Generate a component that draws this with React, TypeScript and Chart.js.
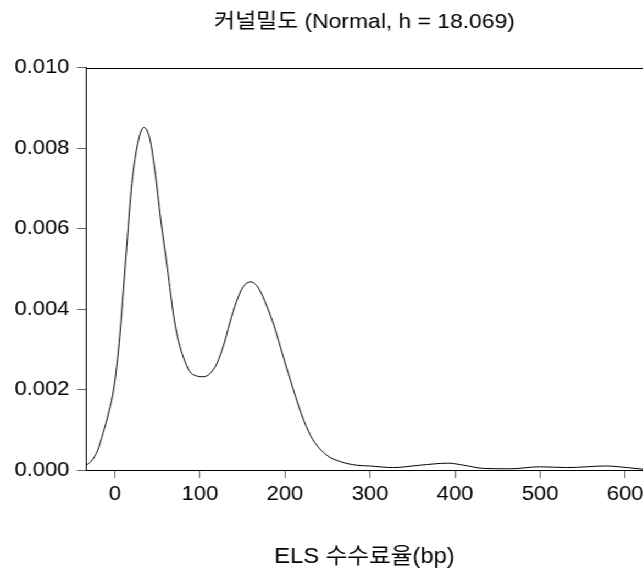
import { useEffect, useRef } from 'react';
import { Chart, registerables } from 'chart.js';

Chart.register(...registerables);

// ---- Text ----
const CHART_TITLE = '커널밀도 (Normal, h = 18.069)';
const X_TITLE = 'ELS 수수료율(bp)';

// ---- Data ----
const bpValues = [
  -34, -28, -20, -14, -7, -1, 5, 13, 20, 27, 34, 41, 47, 54, 62, 69, 75, 81, 88, 96,
  104, 112, 120, 128, 135, 143, 151, 160, 169, 179, 187, 198, 210, 222, 233, 249, 265,
  284, 300, 327, 359, 392, 410, 433, 465, 500, 531, 578, 602, 621,
];
const densityValues = [
  0.00012, 0.00021, 0.0005, 0.00091, 0.00145, 0.00207, 0.00315, 0.0053, 0.00713, 0.00813,
  0.00852, 0.00825, 0.00746, 0.00622, 0.00498, 0.00385, 0.00319, 0.00278, 0.00245, 0.00234,
  0.00232, 0.0024, 0.00265, 0.00311, 0.00365, 0.00419, 0.00456, 0.00468, 0.00452, 0.00406,
  0.0036, 0.00282, 0.00199, 0.00124, 0.00075, 0.00037, 0.00021, 0.00012, 0.0001, 0.00006,
  0.00012, 0.00017, 0.00012, 0.00004, 0.00003, 0.00008, 0.00006, 0.0001, 0.00006, 0.00002,
];

// ---- Axes ----
const xTickValues = [0, 100, 200, 300, 400, 500, 600];
const yTickValues = [0, 0.002, 0.004, 0.006, 0.008, 0.01];
const X_MIN = -34;
const X_MAX = 621;
const Y_MIN = 0;
const Y_MAX = 0.01;

// ---- Layout (canvas drawn narrower and stretched horizontally like the reference) ----
const CANVAS_W = 585;
const CANVAS_H = 572;
const STRETCH = 643 / CANVAS_W;
const FONT_FAMILY = "'Liberation Sans', Arial, 'Noto Sans CJK KR', sans-serif";

const topBorder = {
  id: 'topBorder',
  afterDraw(chart: any) {
    const { ctx, chartArea } = chart;
    ctx.save();
    ctx.strokeStyle = '#000';
    ctx.lineWidth = 1;
    ctx.beginPath();
    ctx.moveTo(chartArea.left, Math.round(chartArea.top) + 0.5);
    ctx.lineTo(chartArea.right, Math.round(chartArea.top) + 0.5);
    ctx.stroke();
    ctx.restore();
  },
};

export default function App() {
  const canvasRef = useRef<HTMLCanvasElement>(null);

  useEffect(() => {
    if (!canvasRef.current) return;
    const points = bpValues.map((x, i) => ({ x, y: densityValues[i] }));
    const chart = new Chart(canvasRef.current, {
      type: 'line',
      data: {
        datasets: [
          {
            data: points,
            borderColor: '#000',
            borderWidth: 1,
            pointRadius: 0,
            fill: false,
            cubicInterpolationMode: 'monotone',
          },
        ],
      },
      plugins: [topBorder],
      options: {
        animation: false,
        responsive: false,
        events: [],
        layout: { padding: 0 },
        plugins: {
          legend: { display: false },
          tooltip: { enabled: false },
          title: {
            display: true,
            text: CHART_TITLE,
            fullSize: false,
            color: '#000',
            font: { family: FONT_FAMILY, size: 20.8, weight: 'normal' },
            padding: { top: 10, bottom: 33 },
          },
        },
        scales: {
          x: {
            type: 'linear',
            min: X_MIN,
            max: X_MAX,
            afterBuildTicks: (scale: any) => {
              scale.ticks = xTickValues.map((v) => ({ value: v }));
            },
            afterFit: (scale: any) => {
              scale.height = 102;
              scale.paddingLeft = 0;
              scale.paddingRight = 0;
            },
            ticks: {
              color: '#000',
              padding: 4,
              maxRotation: 0,
              autoSkip: false,
              font: { family: FONT_FAMILY, size: 20 },
              callback: (v: any) => String(v),
            },
            grid: {
              drawOnChartArea: false,
              drawTicks: true,
              tickLength: 8,
              tickColor: '#666',
              color: '#666',
            },
            border: { display: true, color: '#000', width: 1 },
            title: {
              display: true,
              text: X_TITLE,
              color: '#000',
              font: { family: FONT_FAMILY, size: 21.5 },
              padding: { top: 0, bottom: 2 },
            },
          },
          y: {
            type: 'linear',
            min: Y_MIN,
            max: Y_MAX,
            afterBuildTicks: (scale: any) => {
              scale.ticks = yTickValues.map((v) => ({ value: v }));
            },
            afterFit: (scale: any) => {
              scale.width = 78.2;
            },
            ticks: {
              color: '#000',
              padding: 7,
              autoSkip: false,
              font: { family: FONT_FAMILY, size: 20 },
              callback: (v: any) => Number(v).toFixed(3),
            },
            grid: {
              drawOnChartArea: false,
              drawTicks: true,
              tickLength: 8,
              tickColor: '#666',
              color: '#666',
            },
            border: { display: true, color: '#000', width: 1 },
          },
        },
      } as any,
    });
    return () => chart.destroy();
  }, []);

  return (
    <div
      style={{
        position: 'fixed',
        left: 0,
        top: 0,
        width: CANVAS_W,
        height: CANVAS_H,
        transform: `scaleX(${STRETCH})`,
        transformOrigin: '0 0',
        background: '#fff',
      }}
    >
      <canvas
        ref={canvasRef}
        width={CANVAS_W}
        height={CANVAS_H}
        style={{ width: CANVAS_W, height: CANVAS_H, display: 'block' }}
      />
    </div>
  );
}
